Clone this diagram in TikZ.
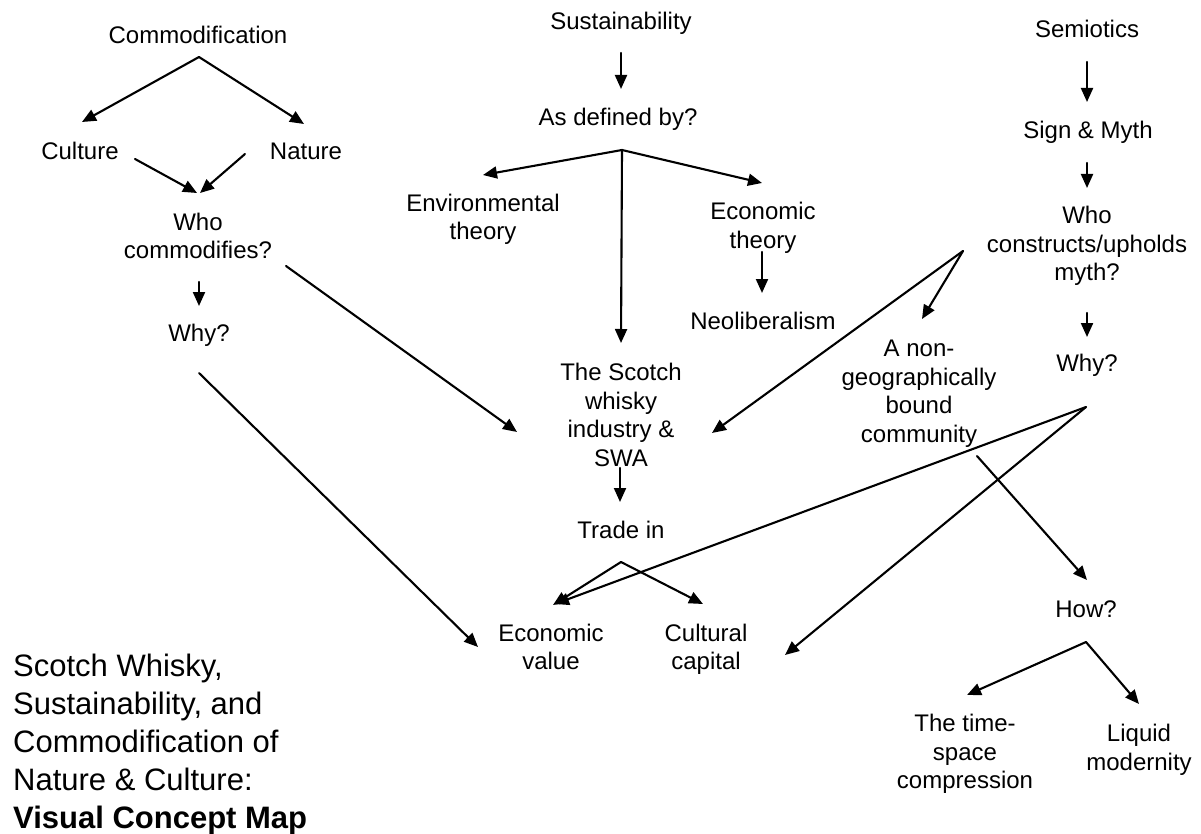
\documentclass[tikz,border=0pt]{standalone}
\usepackage{fontspec}
\setmainfont{Liberation Sans}
\usetikzlibrary{arrows.meta}
\begin{document}
\begin{tikzpicture}[x=1pt,y=-1pt,
  lbl/.style={align=center, inner sep=0pt, font=\fontsize{24}{28.5}\selectfont},
  ttl/.style={align=left, inner sep=0pt, anchor=west, font=\fontsize{31}{38}\selectfont},
  conn/.style={line width=2.1pt, line cap=round, -{Triangle[length=14pt,width=12pt]}},
  bare/.style={line width=2.1pt, line cap=round}]
\useasboundingbox[fill=white] (0,0) rectangle (1201,834);

% ---------- nodes ----------
\node[lbl] (comm)   at (198,35)    {Commodification};
\node[lbl] (cult)   at (80,151)    {Culture};
\node[lbl] (nat)    at (306,151)   {Nature};
\node[lbl] (whoc)   at (198,236)   {Who\\commodifies?};
\node[lbl] (whyl)   at (199,335.5) {Why?};

\node[lbl] (sust)   at (621,23.5)  {Sustainability};
\node[lbl] (asdef)  at (618,119.5) {As defined by?};
\node[lbl] (env)    at (483,219.5) {Environmental\\theory};
\node[lbl] (econt)  at (763,228)   {Economic\\theory};
\node[lbl] (neo)    at (763,321)   {Neoliberalism};
\node[lbl] (scotch) at (621,415)   {The Scotch\\whisky\\industry \&\\SWA};
\node[lbl] (trade)  at (621,530)   {Trade in};
\node[lbl] (ecov)   at (551,647)   {Economic\\value};
\node[lbl] (culcap) at (706,649.5) {Cultural\\capital};

\node[lbl] (semi)   at (1087,29)   {Semiotics};
\node[lbl] (sign)   at (1088,132.5){Sign \& Myth};
\node[lbl] (whocons) at (1087,246) {Who\\constructs/upholds\\myth?};
\node[lbl] (whyr)   at (1087,365.5){Why?};
\node[lbl] (nongeo) at (919,393.5) {A non-\\geographically\\bound\\community};
\node[lbl] (how)    at (1086,609)  {How?};
\node[lbl] (tsc)    at (965,754)   {The time-\\space\\compression};
\node[lbl] (liq)    at (1139,750)  {Liquid\\modernity};

\node[ttl] (title) at (13,744) {Scotch Whisky,\\Sustainability, and\\Commodification of\\Nature \& Culture:\\\textbf{Visual Concept Map}};

% ---------- connector end points ----------
\coordinate (commA)   at (199,57);
\coordinate (cultT)   at (82,122);
\coordinate (natT)    at (304,124);
\coordinate (cultS)   at (135,159);
\coordinate (natS)    at (245,154);
\coordinate (whocT1)  at (197,193);
\coordinate (whocT2)  at (200,193);
\coordinate (whocS)   at (199,282);
\coordinate (whylT)   at (199,306);
\coordinate (whocS2)  at (286,266);
\coordinate (scotchTL) at (517,432);
\coordinate (whylS)   at (199,373);
\coordinate (ecovTL)  at (478,647);

\coordinate (sustS)   at (621,53);
\coordinate (asdefT)  at (621,89);
\coordinate (asdefA)  at (622,150);
\coordinate (envT)    at (483,175);
\coordinate (econtT)  at (762,183);
\coordinate (scotchT) at (621,343);
\coordinate (econtS)  at (762,252);
\coordinate (neoT)    at (762,293);
\coordinate (scotchS) at (620,468);
\coordinate (tradeT)  at (620,502);
\coordinate (tradeA)  at (621,562);
\coordinate (ecovT)   at (553,605);
\coordinate (culcapT) at (703,604);

\coordinate (semiS)   at (1087,62);
\coordinate (signT)   at (1087,102);
\coordinate (signS)   at (1087,163);
\coordinate (whoconsT) at (1087,188);
\coordinate (whoconsS) at (1087,313);
\coordinate (whyrT)   at (1087,337);
\coordinate (whoconsA) at (963,251);
\coordinate (nongeoT) at (922,319);
\coordinate (scotchTR) at (712,433);
\coordinate (whyrA)   at (1086,407);
\coordinate (ecovTR)  at (555,604);
\coordinate (culcapTR) at (785,655);
\coordinate (nongeoS) at (977,456);
\coordinate (howT)    at (1087,580);
\coordinate (howA)    at (1086,642);
\coordinate (tscT)    at (967,695);
\coordinate (liqT)    at (1139,704);

% ---------- connectors ----------
\draw[conn] (commA) -- (cultT);
\draw[conn] (commA) -- (natT);
\draw[conn] (cultS) -- (whocT1);
\draw[conn] (natS) -- (whocT2);
\draw[conn] (whocS) -- (whylT);
\draw[conn] (whocS2) -- (scotchTL);
\draw[conn] (whylS) -- (ecovTL);

\draw[conn] (sustS) -- (asdefT);
\draw[conn] (asdefA) -- (envT);
\draw[conn] (asdefA) -- (econtT);
\draw[conn] (asdefA) -- (scotchT);
\draw[conn] (econtS) -- (neoT);
\draw[conn] (scotchS) -- (tradeT);
\draw[conn] (tradeA) -- (ecovT);
\draw[conn] (tradeA) -- (culcapT);

\draw[conn] (semiS) -- (signT);
\draw[conn] (signS) -- (whoconsT);
\draw[conn] (whoconsS) -- (whyrT);
\draw[conn] (whoconsA) -- (nongeoT);
\draw[conn] (whoconsA) -- (scotchTR);
\draw[conn] (whyrA) -- (ecovTR);
\draw[conn] (whyrA) -- (culcapTR);
\draw[conn] (nongeoS) -- (howT);
\draw[conn] (howA) -- (tscT);
\draw[conn] (howA) -- (liqT);
\end{tikzpicture}
\end{document}
